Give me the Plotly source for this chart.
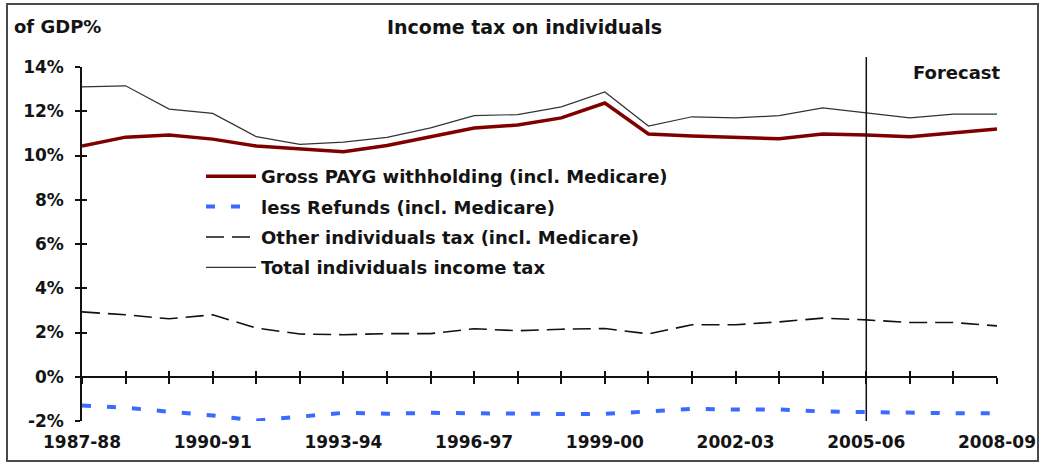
import plotly.graph_objects as go

# Financial years (category axis) and series, % of GDP
years = ["1987-88", "1988-89", "1989-90", "1990-91", "1991-92", "1992-93",
         "1993-94", "1994-95", "1995-96", "1996-97", "1997-98", "1998-99",
         "1999-00", "2000-01", "2001-02", "2002-03", "2003-04", "2004-05",
         "2005-06", "2006-07", "2007-08", "2008-09"]
label_years = ["1987-88", "1990-91", "1993-94", "1996-97",
               "1999-00", "2002-03", "2005-06", "2008-09"]

gross_payg = [10.43, 10.83, 10.93, 10.74, 10.43, 10.30, 10.17, 10.45, 10.85,
              11.24, 11.38, 11.70, 12.37, 10.97, 10.88, 10.83, 10.76, 10.97,
              10.93, 10.85, 11.03, 11.20]
refunds = [-1.30, -1.40, -1.58, -1.75, -1.98, -1.80, -1.63, -1.67, -1.63,
           -1.65, -1.68, -1.68, -1.68, -1.57, -1.45, -1.48, -1.48, -1.57,
           -1.60, -1.65, -1.65, -1.65]
other_tax = [2.93, 2.80, 2.62, 2.80, 2.20, 1.93, 1.90, 1.95, 1.95, 2.17, 2.08,
             2.15, 2.18, 1.94, 2.35, 2.35, 2.48, 2.65, 2.57, 2.45, 2.45, 2.30]
total_tax = [13.10, 13.15, 12.10, 11.90, 10.85, 10.50, 10.60, 10.82, 11.25,
             11.80, 11.85, 12.20, 12.87, 11.33, 11.75, 11.70, 11.80, 12.15,
             11.93, 11.70, 11.87, 11.87]

y_ticks = [-2, 0, 2, 4, 6, 8, 10, 12, 14]
y_ticktext = ["-2%", "0%", "2%", "4%", "6%", "8%", "10%", "12%", "14%"]
forecast_start = "2005-06"

# Page geometry (pixels)
W, H = 1042, 464
L, R, T, B = 82, 997, 67, 421
PW, PH = R - L, B - T


def px_x(p):
    return (p - L) / PW


def px_y(p):
    return (B - p) / PH


FONT = "DejaVu Sans"
INK = "#141414"
AXIS = "#111111"
zero_pos = (0 - y_ticks[0]) / (y_ticks[-1] - y_ticks[0])
x_ticktext = [y if y in label_years else "" for y in years]

fig = go.Figure()
fig.add_trace(go.Scatter(
    x=years, y=gross_payg, mode="lines",
    name="Gross PAYG withholding (incl. Medicare)",
    line=dict(color="#800000", width=3.5), legendgroup="a"))
fig.add_trace(go.Scatter(
    x=years, y=refunds, mode="lines",
    name="less Refunds (incl. Medicare)",
    line=dict(color="#3A6BFF", width=4, dash="9px,16px"), legendgroup="b"))
fig.add_trace(go.Scatter(
    x=years, y=other_tax, mode="lines", xaxis="x2",
    name="Other individuals tax (incl. Medicare)",
    line=dict(color="#111111", width=1.6, dash="18px,8px"), legendgroup="c"))
fig.add_trace(go.Scatter(
    x=years, y=total_tax, mode="lines", xaxis="x2", yaxis="y2",
    name="Total individuals income tax",
    line=dict(color="#333333", width=1.2), legendgroup="d"))

common_x = dict(
    type="category", categoryorder="array", categoryarray=years,
    range=[0, len(years) - 1], showgrid=False, zeroline=False,
    anchor="free", position=zero_pos, side="bottom", automargin=False,
    tickvals=years, tickwidth=1.5, tickcolor=AXIS, ticklen=6,
)
common_y = dict(
    range=[y_ticks[0], y_ticks[-1]], showgrid=False, zeroline=False,
    tickvals=y_ticks, tickwidth=1.5, tickcolor=AXIS, ticklen=5,
    automargin=False,
)

fig.update_layout(
    width=W, height=H,
    margin=dict(l=L, r=W - R, t=T, b=H - B, autoexpand=False),
    paper_bgcolor="white", plot_bgcolor="white",
    font=dict(family=FONT, size=17, color=INK, weight="bold"),
    showlegend=True,
    legend=dict(
        x=px_x(201), y=px_y(158), xanchor="left", yanchor="top",
        bgcolor="rgba(0,0,0,0)", borderwidth=0,
        font=dict(family=FONT, size=18, color=INK, weight="bold"),
        itemwidth=50, traceorder="grouped", tracegroupgap=4,
    ),
    # zero line: downward half of the ticks, year labels pushed to the bottom
    xaxis=dict(
        common_x, showline=True, linecolor=AXIS, linewidth=1.5,
        ticks="outside", ticktext=x_ticktext, ticklabelstandoff=44,
        tickfont=dict(family=FONT, size=17, color=INK, weight="bold"),
    ),
    # upward half of the ticks
    xaxis2=dict(
        common_x, overlaying="x", matches="x", showline=False,
        ticks="inside", showticklabels=False,
    ),
    yaxis=dict(
        common_y, showline=True, linecolor=AXIS, linewidth=1.5,
        ticks="outside", ticktext=y_ticktext, ticklabelstandoff=8,
        tickfont=dict(family=FONT, size=17, color=INK, weight="bold"),
    ),
    yaxis2=dict(
        common_y, overlaying="y", matches="y", side="left", anchor="x",
        showline=False, ticks="inside", showticklabels=False,
    ),
)

# Forecast divider
fig.add_shape(type="line", xref="x", yref="paper",
              x0=forecast_start, x1=forecast_start, y0=0, y1=px_y(57),
              line=dict(color=AXIS, width=1.5))

# Outer frame
fig.add_shape(type="rect", xref="paper", yref="paper",
              x0=px_x(7), x1=px_x(1038), y0=px_y(461), y1=px_y(4),
              line=dict(color="#4a4a4a", width=2), fillcolor="rgba(0,0,0,0)",
              layer="above")

fig.add_annotation(text="of GDP%", xref="paper", yref="paper",
                   x=px_x(12), y=px_y(27), xanchor="left", yanchor="middle",
                   showarrow=False,
                   font=dict(family=FONT, size=18, color=INK, weight="bold"))
fig.add_annotation(text="Income tax on individuals", xref="paper", yref="paper",
                   x=px_x(524), y=px_y(27), xanchor="center", yanchor="middle",
                   showarrow=False,
                   font=dict(family=FONT, size=19, color=INK, weight="bold"))
fig.add_annotation(text="Forecast", xref="paper", yref="paper",
                   x=px_x(1003), y=px_y(73), xanchor="right", yanchor="middle",
                   showarrow=False,
                   font=dict(family=FONT, size=18, color=INK, weight="bold"))

fig.write_html("out.html")
